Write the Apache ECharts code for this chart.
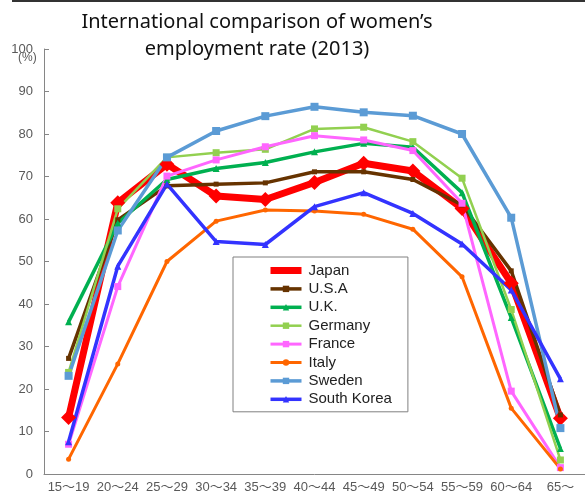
<!DOCTYPE html>
<html>
<head>
<meta charset="utf-8">
<script src="https://cdn.jsdelivr.net/npm/echarts@6/dist/echarts.min.js"></script>
<style>html,body{margin:0;padding:0;background:#fff}#c{width:585px;height:495px}</style>
</head>
<body>
<div id="c"></div>
<script>
var categories = ['15～19','20～24','25～29','30～34','35～39','40～44','45～49','50～54','55～59','60～64','65～'];
var yTicks = [0,10,20,30,40,50,60,70,80,90,100];
var japan   = [13.3, 63.8, 72.9, 65.4, 64.6, 68.6, 73.1, 71.3, 62.5, 44.9, 13.1];
var usa     = [27.2, 59.8, 67.8, 68.2, 68.5, 71.1, 71.1, 69.3, 63.3, 47.8, 13.9];
var uk      = [35.8, 59.0, 69.3, 71.9, 73.3, 75.8, 77.8, 76.9, 66.2, 36.8, 6.0];
var germany = [23.9, 62.4, 74.5, 75.6, 76.4, 81.2, 81.6, 78.2, 69.6, 38.7, 3.3];
var france  = [7.0, 44.1, 70.1, 73.9, 77.0, 79.6, 78.6, 76.1, 63.7, 19.5, 1.5];
var italy   = [3.5, 25.9, 50.0, 59.5, 62.1, 61.9, 61.1, 57.6, 46.4, 15.5, 1.2];
var sweden  = [23.1, 57.3, 74.5, 80.7, 84.2, 86.4, 85.1, 84.3, 80.0, 60.3, 10.8];
var korea   = [7.6, 48.9, 68.2, 54.7, 54.0, 62.9, 66.2, 61.3, 54.1, 43.3, 22.4];

var FONT = '"Liberation Sans", "Noto Sans CJK JP", sans-serif';
function mk(name, data, color, width, symbol, size) {
  return {
    name: name, type: 'line', data: data,
    symbol: symbol, symbolSize: size, showSymbol: true,
    lineStyle: {color: color, width: width},
    itemStyle: {color: color},
    animation: false
  };
}
var chart = echarts.init(document.getElementById('c'));
chart.setOption({
  animation: false,
  backgroundColor: '#fff',
  textStyle: {fontFamily: FONT},
  graphic: [
    {type: 'line', shape: {x1: 12, y1: 1, x2: 585, y2: 1}, style: {stroke: '#333', lineWidth: 2}},
    {type: 'text', x: 257, y: 9, style: {text: 'International comparison of women\u2019s\nemployment rate (2013)', font: '20px "Noto Sans", sans-serif', fill: '#111', textAlign: 'center', lineHeight: 27}},
    {type: 'text', x: 18, y: 52, style: {text: '(%)', font: '12px ' + FONT, fill: '#595959'}}
  ],
  grid: {left: 44, right: -8, top: 49, bottom: 21, containLabel: false},
  legend: {
    orient: 'vertical', left: 233, top: 257,
    padding: [6, 16, 5, 34],
    itemWidth: 31, itemHeight: 8, itemGap: 3.4,
    borderColor: '#808080', borderWidth: 1, backgroundColor: '#fff',
    lineStyle: {width: 'inherit'},
    textStyle: {fontFamily: FONT, fontSize: 15, color: '#222', padding: [0, 0, 0, 2]},
    data: ['Japan','U.S.A','U.K.','Germany','France','Italy','Sweden','South Korea']
  },
  xAxis: {
    type: 'category', data: categories, boundaryGap: true,
    axisLine: {lineStyle: {color: '#868686', width: 1}},
    axisTick: {inside: true, length: 4, alignWithLabel: false, lineStyle: {color: '#868686'}},
    axisLabel: {color: '#595959', fontSize: 13, margin: 7, interval: 0, fontFamily: FONT},
    splitLine: {show: false}
  },
  yAxis: {
    type: 'value', min: yTicks[0], max: yTicks[yTicks.length - 1], interval: 10,
    axisLine: {show: true, lineStyle: {color: '#868686', width: 1}},
    axisTick: {show: true, inside: true, length: 5, lineStyle: {color: '#868686'}},
    axisLabel: {color: '#595959', fontSize: 13, margin: 11, fontFamily: FONT},
    splitLine: {show: false}
  },
  series: [
    mk('Japan', japan, '#FF0000', 7, 'diamond', 15),
    mk('U.S.A', usa, '#663300', 3.5, 'rect', 5),
    mk('U.K.', uk, '#00B050', 3.5, 'triangle', 7),
    mk('Germany', germany, '#92D050', 2.5, 'rect', 7),
    mk('France', france, '#FF66FF', 3, 'rect', 7),
    mk('Italy', italy, '#FF6600', 3, 'circle', 5),
    mk('Sweden', sweden, '#5B9BD5', 3.5, 'rect', 8),
    mk('South Korea', korea, '#3333FF', 3.5, 'triangle', 7)
  ]
});
</script>
</body>
</html>
